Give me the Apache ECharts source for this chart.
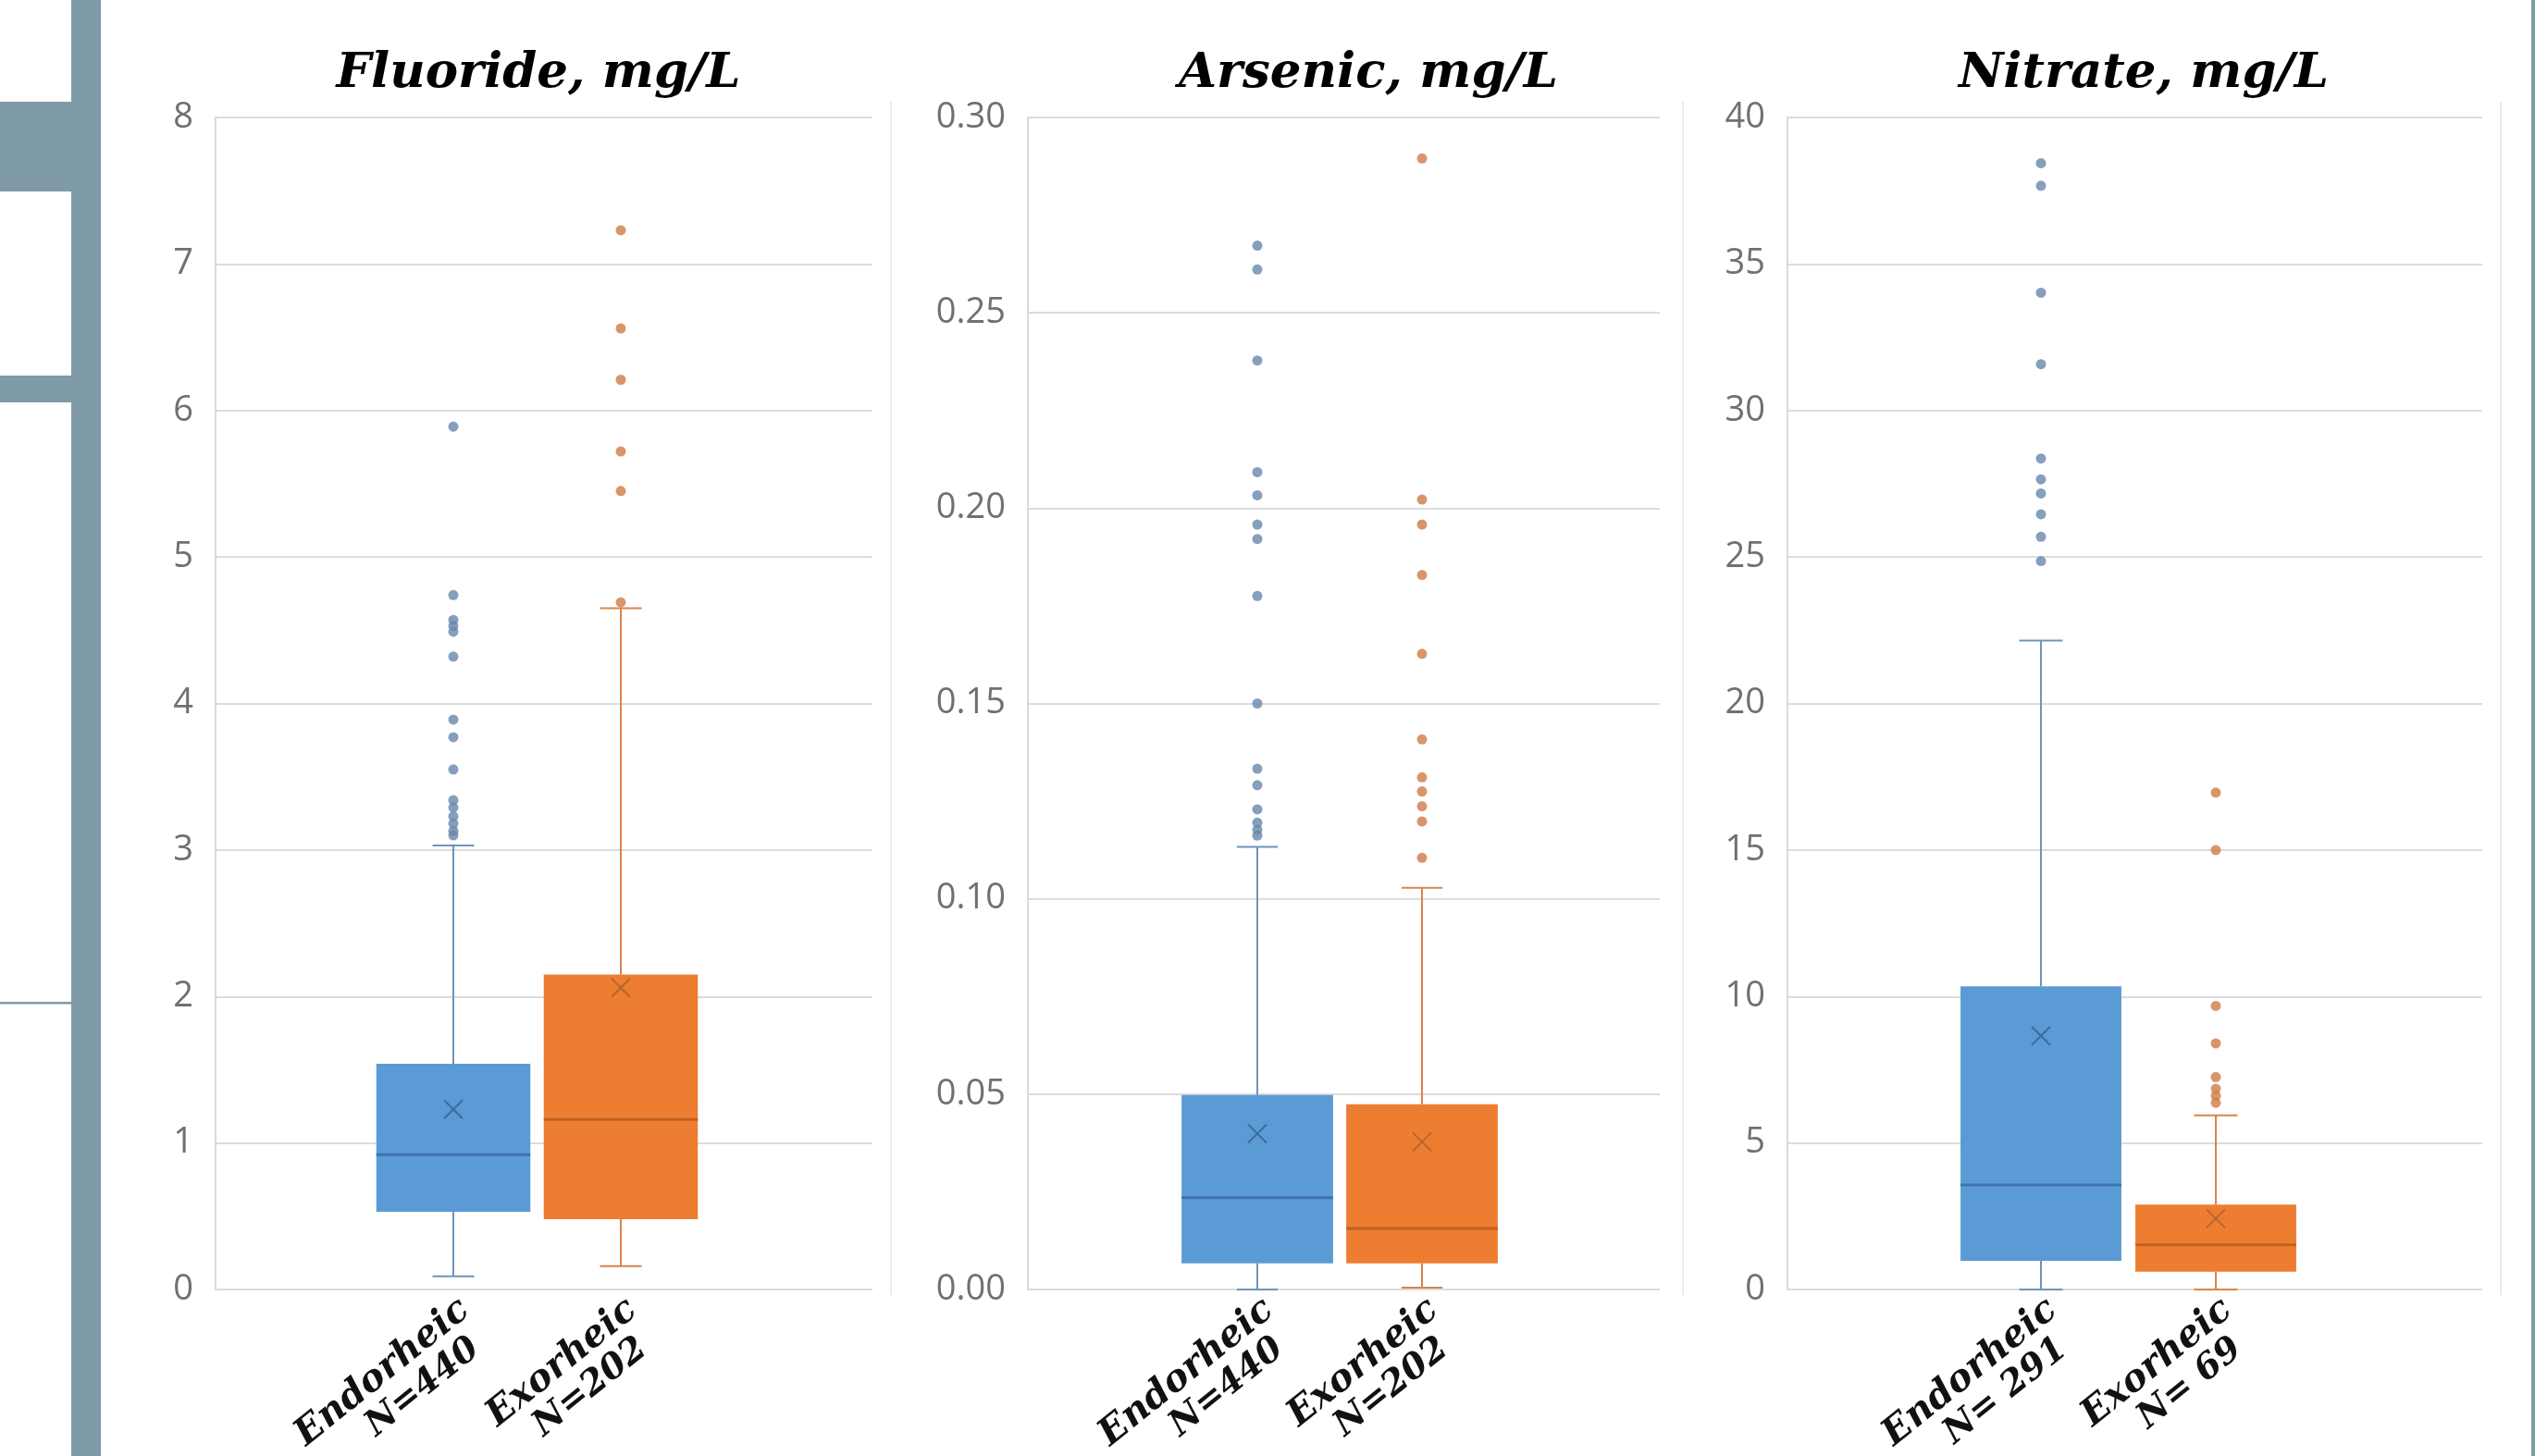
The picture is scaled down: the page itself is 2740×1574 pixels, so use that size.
<!DOCTYPE html>
<html><head><meta charset="utf-8">
<script src="https://cdn.jsdelivr.net/npm/echarts@6/dist/echarts.min.js"></script>
<style>html,body{margin:0;padding:0;background:#fff}#c{width:2740px;height:1574px}</style>
</head><body><div id="c"></div>
<script>
// ---------------- DATA ----------------
const groupNames = ['Endorheic', 'Exorheic'];
const panelTitles = ['Fluoride, mg/L', 'Arsenic, mg/L', 'Nitrate, mg/L'];
const fluorideN = ['N=440', 'N=202'];
const arsenicN = ['N=440', 'N=202'];
const nitrateN = ['N= 291', 'N= 69'];
// box stats: [min, Q1, median, Q3, max, mean]
const fluorideEndo = [0.09, 0.53, 0.92, 1.54, 3.03, 1.23];
const fluorideExo  = [0.16, 0.48, 1.16, 2.15, 4.65, 2.06];
const arsenicEndo  = [0.0, 0.0067, 0.0235, 0.0498, 0.1133, 0.0399];
const arsenicExo   = [0.0005, 0.0067, 0.0156, 0.0474, 0.1028, 0.0378];
const nitrateEndo  = [0.0, 0.98, 3.57, 10.35, 22.15, 8.66];
const nitrateExo   = [0.0, 0.61, 1.52, 2.90, 5.94, 2.42];
// outliers
const fluorideEndoOut = [5.89, 4.74, 4.57, 4.53, 4.49, 4.32, 3.89, 3.77, 3.55, 3.34, 3.29, 3.23, 3.18, 3.13, 3.10];
const fluorideExoOut  = [7.23, 6.56, 6.21, 5.72, 5.45, 4.69];
const arsenicEndoOut  = [0.2672, 0.2611, 0.2378, 0.2092, 0.2033, 0.1958, 0.1921, 0.1775, 0.150, 0.1333, 0.1291, 0.1229, 0.1195, 0.1177, 0.1162];
const arsenicExoOut   = [0.2895, 0.2022, 0.1958, 0.1829, 0.1627, 0.1408, 0.1311, 0.1275, 0.1237, 0.1198, 0.1105];
const nitrateEndoOut  = [38.44, 37.67, 34.02, 31.58, 28.36, 27.65, 27.17, 26.46, 25.69, 24.86];
const nitrateExoOut   = [16.96, 15.0, 9.68, 8.40, 7.25, 6.85, 6.61, 6.37];
// value axes: [min, max, interval]
const fluorideAxis = [0, 8, 1];
const arsenicAxis  = [0, 0.30, 0.05];
const nitrateAxis  = [0, 40, 5];
const arsenicDecimals = 2;

// ---------------- LAYOUT / STYLE ----------------
const TOP = 127, HEIGHT = 1267;
const layout = [
  { frameLeft: 233,  frameWidth: 710, boxLeft: 218.5,  boxWidth: 724, titleX: 582 },
  { frameLeft: 1111, frameWidth: 683, boxLeft: 1092,   boxWidth: 712, titleX: 1479 },
  { frameLeft: 1932, frameWidth: 751, boxLeft: 1922.5, boxWidth: 756, titleX: 2317 }
];
const BOX_FRAC = 0.92, CAP_FRAC = 0.27;
const styles = [
  { fill: '#5B9BD5', median: '#3f74ad', whisker: '#6f93bd', mean: '#3d6b9e', dot: '#6687ab' },
  { fill: '#ED7D31', median: '#c0601f', whisker: '#d9844a', mean: '#b8652c', dot: '#cf7a45' }
];
const panelsData = [
  { stats: [fluorideEndo, fluorideExo], outs: [fluorideEndoOut, fluorideExoOut], ns: fluorideN, axis: fluorideAxis, dec: 0 },
  { stats: [arsenicEndo, arsenicExo],   outs: [arsenicEndoOut, arsenicExoOut],   ns: arsenicN,  axis: arsenicAxis,  dec: arsenicDecimals },
  { stats: [nitrateEndo, nitrateExo],   outs: [nitrateEndoOut, nitrateExoOut],   ns: nitrateN,  axis: nitrateAxis,  dec: 0 }
];

function makeRender(st) {
  return function (params, api) {
    const c = api.value(0);
    const pMin = api.coord([c, api.value(1)]);
    const pQ1 = api.coord([c, api.value(2)]);
    const pMed = api.coord([c, api.value(3)]);
    const pQ3 = api.coord([c, api.value(4)]);
    const pMax = api.coord([c, api.value(5)]);
    const pMean = api.coord([c, api.value(6)]);
    const band = api.size([1, 0])[0];
    const bw = band * BOX_FRAC, hw = bw / 2, cw = bw * CAP_FRAC / 2;
    const x = pMed[0];
    const wl = { stroke: st.whisker, lineWidth: 2 };
    const m = 10;
    return {
      type: 'group',
      children: [
        { type: 'line', shape: { x1: x, y1: pQ3[1], x2: x, y2: pMax[1] }, style: wl },
        { type: 'line', shape: { x1: x, y1: pQ1[1], x2: x, y2: pMin[1] }, style: wl },
        { type: 'line', shape: { x1: x - cw, y1: pMax[1], x2: x + cw, y2: pMax[1] }, style: wl },
        { type: 'line', shape: { x1: x - cw, y1: pMin[1], x2: x + cw, y2: pMin[1] }, style: wl },
        { type: 'rect', shape: { x: x - hw, y: pQ3[1], width: bw, height: pQ1[1] - pQ3[1] }, style: { fill: st.fill } },
        { type: 'line', shape: { x1: x - hw, y1: pMed[1], x2: x + hw, y2: pMed[1] }, style: { stroke: st.median, lineWidth: 3 } },
        { type: 'line', shape: { x1: x - m, y1: pMean[1] - m, x2: x + m, y2: pMean[1] + m }, style: { stroke: st.mean, lineWidth: 2 } },
        { type: 'line', shape: { x1: x - m, y1: pMean[1] + m, x2: x + m, y2: pMean[1] - m }, style: { stroke: st.mean, lineWidth: 2 } }
      ]
    };
  };
}

const grids = [], xAxes = [], yAxes = [], series = [], graphics = [];
panelsData.forEach((pd, i) => {
  const L = layout[i];
  const [amin, amax, aint] = pd.axis;
  grids.push({ left: L.frameLeft, top: TOP, width: L.frameWidth, height: HEIGHT, containLabel: false, outerBoundsMode: 'none' });
  grids.push({ left: L.boxLeft, top: TOP, width: L.boxWidth, height: HEIGHT, containLabel: false, outerBoundsMode: 'none' });
  xAxes.push({ type: 'category', gridIndex: 2 * i, data: [''], show: false });
  const cats = ['', groupNames[0] + '|' + pd.ns[0], groupNames[1] + '|' + pd.ns[1], ''];
  xAxes.push({
    type: 'category', gridIndex: 2 * i + 1, data: cats,
    axisLine: { show: false }, axisTick: { show: false }, splitLine: { show: false },
    axisLabel: {
      interval: 0, rotate: 39, margin: 2, verticalAlign: 'top',
      formatter: v => { if (!v) return ''; const p = v.split('|'); return '{a|' + p[0] + '}\n{b|' + p[1] + '}'; },
      rich: {
        a: { fontFamily: 'DejaVu Serif', fontStyle: 'italic', fontWeight: 'bold', fontSize: 40, color: '#111', lineHeight: 40 },
        b: { fontFamily: 'DejaVu Serif', fontStyle: 'italic', fontWeight: 'bold', fontSize: 38, color: '#111', lineHeight: 40, padding: [0, 18, 0, 0] }
      }
    }
  });
  yAxes.push({
    type: 'value', gridIndex: 2 * i, min: amin, max: amax, interval: aint,
    axisLine: { show: true, lineStyle: { color: '#dadada', width: 2 } },
    axisTick: { show: false },
    axisLabel: { color: '#707070', fontSize: 38, fontFamily: 'Open Sans', margin: 24,
      formatter: v => Number(v).toFixed(pd.dec) },
    splitLine: { show: true, lineStyle: { color: '#dcdcdc', width: 2 } }
  });
  yAxes.push({ type: 'value', gridIndex: 2 * i + 1, min: amin, max: amax, show: false, splitLine: { show: false } });
  pd.stats.forEach((s, g) => {
    series.push({
      type: 'custom', name: groupNames[g], xAxisIndex: 2 * i + 1, yAxisIndex: 2 * i + 1,
      data: [[g + 1].concat(s)], encode: { x: 0, y: [1, 2, 3, 4, 5, 6] },
      renderItem: makeRender(styles[g]), z: 3, silent: true
    });
    series.push({
      type: 'scatter', name: groupNames[g] + ' outliers', xAxisIndex: 2 * i + 1, yAxisIndex: 2 * i + 1,
      data: pd.outs[g].map(v => [g + 1, v]), symbolSize: 11,
      itemStyle: { color: styles[g].dot }, z: 4, silent: true
    });
  });
  graphics.push({
    type: 'text', x: L.titleX, y: 80, z: 10,
    style: { text: panelTitles[i], font: 'italic bold 53px "DejaVu Serif"', fill: '#000',
      textAlign: 'center', textVerticalAlign: 'middle', align: 'center', verticalAlign: 'middle' }
  });
});

// slide decorations
const deco = '#7E9AA6';
graphics.push({ type: 'rect', shape: { x: 77, y: 0, width: 32, height: 1574 }, style: { fill: deco } });
graphics.push({ type: 'rect', shape: { x: 0, y: 110, width: 78, height: 97 }, style: { fill: deco } });
graphics.push({ type: 'rect', shape: { x: 0, y: 406, width: 78, height: 29 }, style: { fill: deco } });
graphics.push({ type: 'rect', shape: { x: 0, y: 1083, width: 79, height: 2.5 }, style: { fill: deco } });
graphics.push({ type: 'rect', shape: { x: 2736, y: 0, width: 4, height: 1574 }, style: { fill: deco } });
[963, 1819, 2703].forEach(x => graphics.push({ type: 'line', shape: { x1: x, y1: 110, x2: x, y2: 1400 }, style: { stroke: '#ebebeb', lineWidth: 2 } }));

const chart = echarts.init(document.getElementById('c'), null, { renderer: 'canvas' });
chart.setOption({
  backgroundColor: '#ffffff',
  animation: false,
  grid: grids, xAxis: xAxes, yAxis: yAxes, series: series,
  graphic: graphics
});
</script></body></html>
